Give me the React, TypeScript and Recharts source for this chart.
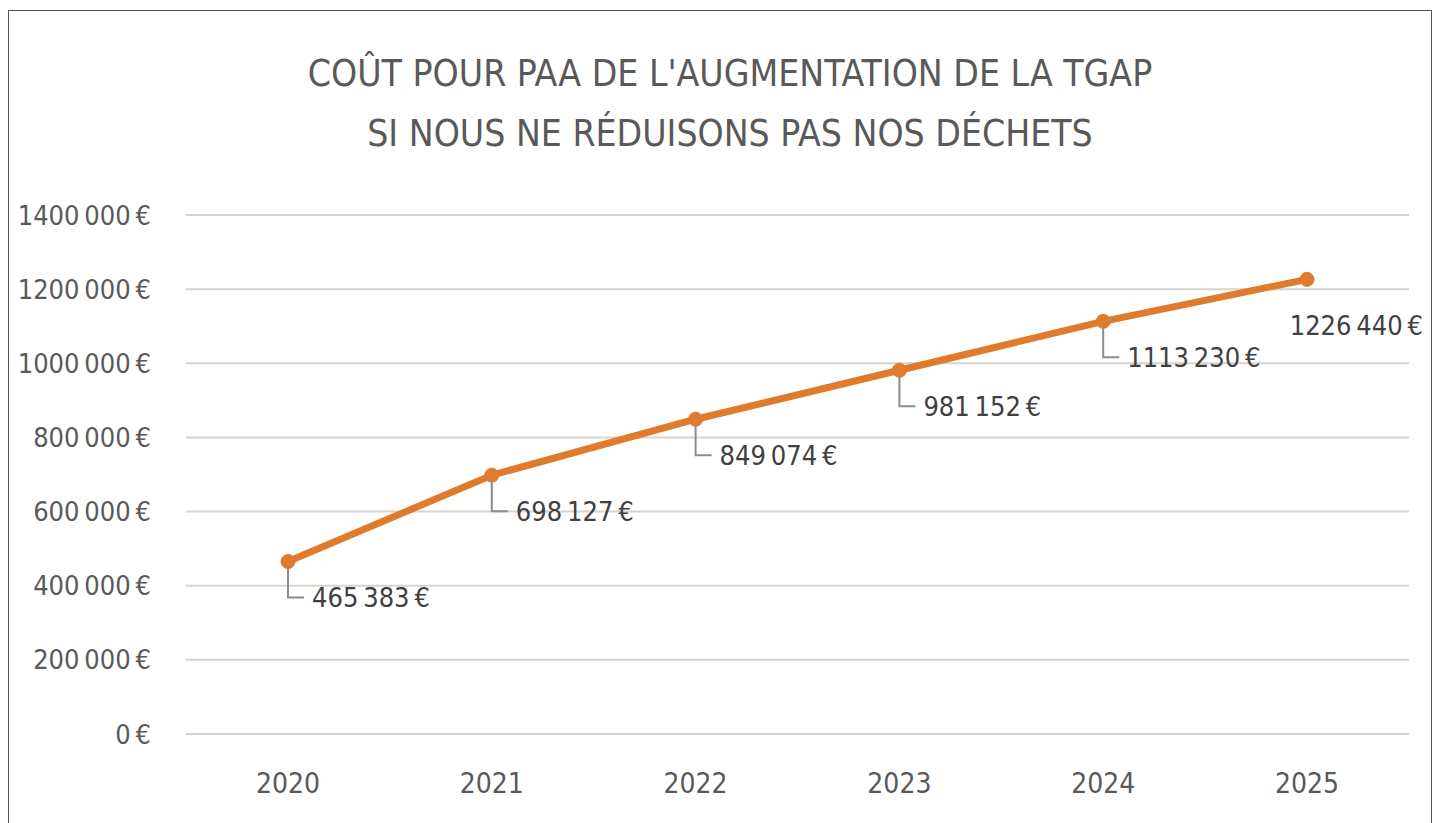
import { CartesianGrid, LabelList, Line, LineChart, XAxis, YAxis } from "recharts"

const years = ["2020", "2021", "2022", "2023", "2024", "2025"]
const costs = [465383, 698127, 849074, 981152, 1113230, 1226440]
const yTicks = [0, 200000, 400000, 600000, 800000, 1000000, 1200000, 1400000]
const titleLines = [
  "COÛT POUR PAA DE L'AUGMENTATION DE LA TGAP",
  "SI NOUS NE RÉDUISONS PAS NOS DÉCHETS",
]

const data = years.map((year, i) => ({ year, cost: costs[i] }))

const FONT = '"Liberation Sans Narrow", "DejaVu Sans Condensed", "Noto Sans", sans-serif'
const ORANGE = "#e07a2c"
const TEXT = "#595959"
const THIN = "\u202F"

// French style, as in the original: thin gaps between thousands and before the euro sign
const euro = (v: number) =>
  v >= 1000
    ? `${Math.floor(v / 1000)}${THIN}${String(v % 1000).padStart(3, "0")}${THIN}€`
    : `${v}${THIN}€`

function CostLabel(props: any) {
  const { x, y, value, index } = props
  const last = index === costs.length - 1
  if (last) {
    // last label sits just under its point, no leader line, kept inside the frame
    return (
      <text x={x + 116} y={y + 56} textAnchor="end" fill="#404040" fontSize={27} fontFamily={FONT}>
        {euro(value)}
      </text>
    )
  }
  const dy = 36
  return (
    <g>
      <polyline
        points={`${x},${y + 6} ${x},${y + dy} ${x + 16},${y + dy}`}
        fill="none"
        stroke="#8c8c8c"
        strokeWidth={2}
      />
      <text x={x + 24} y={y + dy + 10} fill="#404040" fontSize={27} fontFamily={FONT}>
        {euro(value)}
      </text>
    </g>
  )
}

export default function App() {
  return (
    <div
      style={{
        position: "absolute",
        left: 0,
        top: 0,
        width: 1437,
        height: 823,
        background: "#fff",
        overflow: "hidden",
        fontFamily: FONT,
      }}
    >
      <div
        style={{
          position: "absolute",
          left: 8,
          top: 10,
          width: 1424,
          height: 830,
          border: "1.5px solid #555",
          boxSizing: "border-box",
        }}
      />
      {titleLines.map((t, i) => (
        <div
          key={t}
          style={{
            position: "absolute",
            left: 0,
            width: 1460,
            top: 52 + i * 60,
            textAlign: "center",
            fontSize: 37,
            color: TEXT,
            lineHeight: "44px",
          }}
        >
          {t}
        </div>
      ))}
      <div style={{ position: "absolute", left: 0, top: 0 }}>
        <LineChart
          width={1437}
          height={823}
          data={data}
          margin={{ top: 215, right: 28, left: 0, bottom: 29 }}
        >
          <CartesianGrid vertical={false} stroke="#d9d3ce" strokeWidth={2} />
          <XAxis
            dataKey="year"
            axisLine={false}
            tickLine={false}
            height={60}
            tickMargin={33}
            padding={{ left: 102, right: 102 }}
            tick={{ fill: TEXT, fontSize: 28, fontFamily: FONT }}
          />
          <YAxis
            domain={[0, 1400000]}
            ticks={yTicks}
            width={186}
            axisLine={false}
            tickLine={false}
            tickMargin={29}
            tickFormatter={euro}
            tick={{ fill: TEXT, fontSize: 27, fontFamily: FONT }}
          />
          <Line
            dataKey="cost"
            stroke={ORANGE}
            strokeWidth={7}
            dot={{ r: 7, fill: ORANGE, stroke: ORANGE, strokeWidth: 1 }}
            isAnimationActive={false}
          >
            <LabelList dataKey="cost" content={<CostLabel />} />
          </Line>
        </LineChart>
      </div>
    </div>
  )
}
